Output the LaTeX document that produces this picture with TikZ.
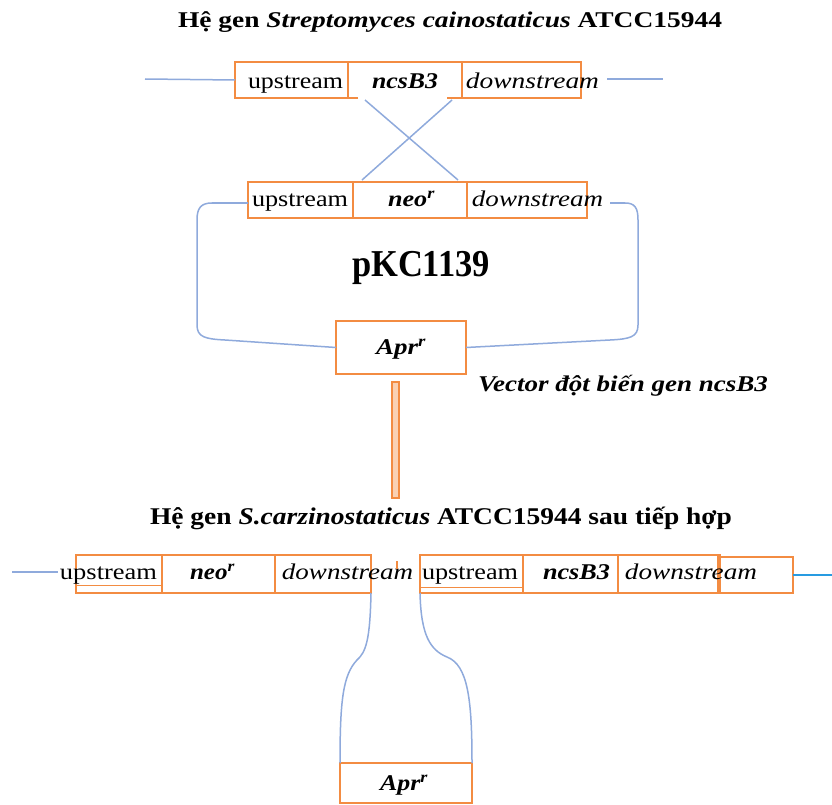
\documentclass[tikz,border=0pt]{standalone}
\usepackage{graphicx}
\usepackage{fontspec}
\setmainfont{Liberation Serif}
\usetikzlibrary{calc}

\definecolor{boxor}{RGB}{243,140,66}
\definecolor{dnablue}{RGB}{143,170,220}
\definecolor{endblue}{RGB}{40,155,225}

% text set at a given size and stretched to a given width (both in pt)
\newcommand\fw[3]{\resizebox{#1pt}{\height}{\fontsize{#2pt}{#2pt}\selectfont #3}}
\newcommand\lsz{22.5}

\tikzset{
  cell/.style={draw=boxor, line width=2pt, minimum height=36pt, inner sep=0pt, outer sep=0pt},
  opencell/.style={cell, draw=none},
  lbl/.style={anchor=base, inner sep=0pt, outer sep=0pt, text=black},
  dna/.style={draw=dnablue, line width=1.5pt},
  edge/.style={draw=boxor, line width=2pt},
}

\begin{document}
\begin{tikzpicture}[x=1pt,y=-1pt]
\useasboundingbox[fill=white] (0,0) rectangle (832,805);

% ---------- titles ----------
\node[lbl] (title1) at (450,27.5) {\fw{544}{22.5}{\bfseries Hệ gen \textit{Streptomyces cainostaticus} ATCC15944}};
\node[lbl] (title2) at (441,524.3) {\fw{582}{24}{\bfseries Hệ gen \textit{S.carzinostaticus} ATCC15944 sau tiếp hợp}};

% ---------- chromosome, top ----------
\node[cell, minimum width=113pt] (tu) at (291.5,80) {};
\node[opencell, minimum width=114pt] (tn) at (405,80) {};
\node[cell, minimum width=119pt] (td) at (521.5,80) {};
\draw[edge] ($(tn.south west)+(10,0)$) -- (tn.south west) -- (tn.north west)
            -- (tn.north east) -- (tn.south east) -- ++(-15,0);
\node[lbl] (tut) at (295.5,88.5) {\fw{95}{\lsz}{upstream}};
\node[lbl] (tnt) at (405,88.5) {\fw{66}{\lsz}{\bfseries\itshape ncsB3}};
\node[lbl] (tdt) at (532.5,88.5) {\fw{133}{\lsz}{\itshape downstream}};
\coordinate (tl) at (145,79);
\coordinate (tr1) at (607,79);
\coordinate (tr2) at (663,79);
\draw[dna] (tl) -- (tu.west);
\draw[dna] (tr1) -- (tr2);

% ---------- crossing over ----------
\coordinate (xa) at (365,100);
\coordinate (xb) at (452,100);
\coordinate (xc) at (362,180);
\coordinate (xd) at (458,180);
\draw[dna] (xa) -- (xd);
\draw[dna] (xb) -- (xc);

% ---------- vector pKC1139 ----------
\node[cell, minimum width=105pt] (mu) at (300.5,200) {};
\node[cell, minimum width=114pt] (mn) at (410,200) {};
\node[cell, minimum width=120pt] (md) at (527,200) {};
\node[lbl] (mut) at (300,206.5) {\fw{96}{\lsz}{upstream}};
\node[lbl] (mnt) at (411.5,206.5) {\fw{47}{\lsz}{\bfseries\itshape neo\textsuperscript{r}}};
\node[lbl] (mdt) at (537.5,206.5) {\fw{131}{\lsz}{\itshape downstream}};
\node[cell, minimum width=130pt, minimum height=53pt] (at) at (401,347.5) {};
\node[lbl] (att) at (401,354) {\fw{50}{\lsz}{\bfseries\itshape Apr\textsuperscript{r}}};
\node[lbl] (pkc) at (421,276.7) {\fw{138}{38}{\bfseries pKC1139}};
\node[lbl] (vec) at (623,391) {\fw{290}{\lsz}{\bfseries\itshape Vector đột biến gen ncsB3}};
\coordinate (mr) at (610,203);
\draw[dna] (mu.west |- 0,203) -- (212,203) .. controls (201,203) and (197,208) .. (197,220)
  -- (197,325) .. controls (197,337) and (205,339) .. (225,340) -- (at.west);
\draw[dna] (mr) -- (625,203) .. controls (635,203) and (638,208) .. (638,220)
  -- (638,325) .. controls (638,337) and (630,339) .. (610,340) -- (at.east);

% ---------- transfer arrow ----------
\node[draw=boxor, fill=boxor!40, line width=1.2pt, minimum width=7pt, minimum height=116pt,
      inner sep=0pt] (bar) at (395.5,440) {};

% ---------- chromosome after conjugation, left part ----------
\node[cell, minimum width=86pt, minimum height=38pt] (bu) at (119,574) {};
\node[cell, minimum width=113pt, minimum height=38pt] (bn) at (218.5,574) {};
\node[cell, minimum width=96pt, minimum height=38pt] (bd) at (323,574) {};
\draw[boxor, line width=0.6pt] ($(bu.south west)+(0,-8)$) -- ($(bu.south east)+(0,-8)$);
\node[lbl] (but) at (108.5,579.3) {\fw{97}{\lsz}{upstream}};
\node[lbl] (bnt) at (212.5,579.3) {\fw{45}{\lsz}{\bfseries\itshape neo\textsuperscript{r}}};
\node[lbl] (bdt) at (347.5,579.3) {\fw{131}{\lsz}{\itshape downstream}};
\coordinate (bl1) at (12,572);
\coordinate (bl2) at (58,572);
\draw[dna] (bl1) -- (bl2);
\draw[boxor, line width=1.5pt] (397,561) -- (397,569);

% ---------- chromosome after conjugation, right part ----------
\node[cell, minimum width=103pt, minimum height=38pt] (ru) at (471.5,574) {};
\node[cell, minimum width=95pt, minimum height=38pt] (rn) at (570.5,574) {};
\node[cell, minimum width=102pt, minimum height=38pt] (rd) at (669,574) {};
\node[cell, minimum width=75pt] (rx) at (755.5,575) {};
\draw[boxor, line width=0.6pt] ($(ru.south west)+(0,-6)$) -- ($(ru.south east)+(0,-6)$);
\node[lbl] (rut) at (470,579.3) {\fw{96}{\lsz}{upstream}};
\node[lbl] (rnt) at (576.5,579.3) {\fw{67}{\lsz}{\bfseries\itshape ncsB3}};
\node[lbl] (rdt) at (691,579.3) {\fw{132}{\lsz}{\itshape downstream}};
\coordinate (rend) at (832,575);
\draw[draw=endblue, line width=1.5pt] (rx.east) -- (rend);

% ---------- integrated Apr cassette ----------
\node[cell, minimum width=132pt, minimum height=40pt] (ab) at (406,783) {};
\node[lbl] (abt) at (404,790) {\fw{48}{\lsz}{\bfseries\itshape Apr\textsuperscript{r}}};
\draw[dna] (bd.south east) .. controls (370,640) and (366,652) .. (357,660)
  .. controls (343,675) and (340,700) .. (ab.north west);
\draw[dna] (ru.south west) .. controls (421,635) and (430,650) .. (447,657)
  .. controls (468,665) and (472,700) .. (ab.north east);
\end{tikzpicture}
\end{document}
